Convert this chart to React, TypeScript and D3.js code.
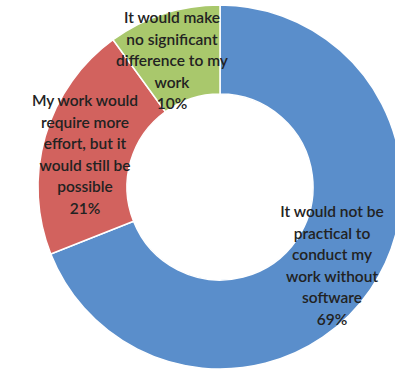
import React from "react";
import * as d3 from "d3";

const categories = [
  "It would not be practical to conduct my work without software",
  "My work would require more effort, but it would still be possible",
  "It would make no significant difference to my work",
];
const values = [69, 21, 10];
const percentLabels = ["69%", "21%", "10%"];
const labelLines = [
  ["It would not be", "practical to", "conduct my", "work without", "software", "69%"],
  ["My work would", "require more", "effort, but it", "would still be", "possible", "21%"],
  ["It would make", "no significant", "difference to my", "work", "10%"],
];
const colors = ["#5a8ecb", "#d2625e", "#a9c86c"];

const W = 395;
const H = 371;
const cx = 220;
const cy = 187;
const outerR = 182;
const innerR = 93;
// label anchor positions (center x, first-line baseline y)
const labelPos = [
  [332, 217],
  [85, 106],
  [172, 23],
];
const lineH = 21.5;

export default function App() {
  const pie = d3.pie<number>().sort(null).value((d) => d)(values);
  const arc = d3.arc<d3.PieArcDatum<number>>().innerRadius(innerR).outerRadius(outerR);
  return (
    <svg width={W} height={H} style={{ position: "absolute", left: 0, top: 0, background: "#fff" }}>
      <g transform={`translate(${cx},${cy})`}>
        {pie.map((p, i) => (
          <path key={i} d={arc(p) || ""} fill={colors[i]} stroke="#fff" strokeWidth={1.5}>
            <title>{`${categories[i]} ${percentLabels[i]}`}</title>
          </path>
        ))}
      </g>
      {labelLines.map((lines, i) => (
        <text
          key={i}
          x={labelPos[i][0]}
          y={labelPos[i][1]}
          textAnchor="middle"
          fontFamily="Lato, sans-serif"
          fontSize={15.5}
          fontWeight={600}
          fill="#222"
        >
          {lines.map((l, j) => (
            <tspan key={j} x={labelPos[i][0]} y={labelPos[i][1] + j * lineH}>
              {l}
            </tspan>
          ))}
        </text>
      ))}
    </svg>
  );
}
